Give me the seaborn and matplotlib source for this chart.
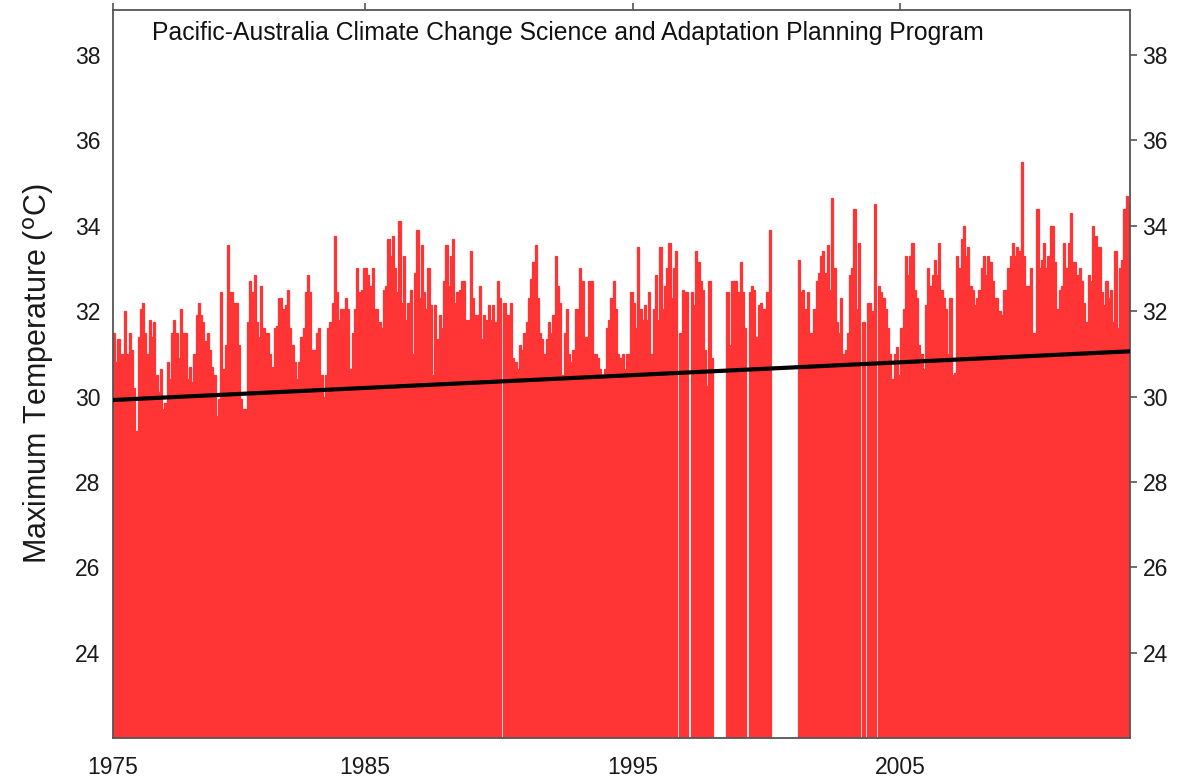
import numpy as np
import pandas as pd
import matplotlib
matplotlib.use("Agg")
import matplotlib.pyplot as plt
import seaborn as sns

# ---------------- data (monthly mean maximum temperature, degC) ----------------
nan = np.nan
start_year = 1975
start_month = 8  # first month shown (August)

tmax_part1 = [
    31.5, 30.8, 31.35, 31.0, 31.0, 32.0, 31.0, 31.5, 31.1, 30.2,
    29.2, 31.4, 32.05, 32.2, 31.5, 31.0, 31.8, 31.4, 31.75, 30.5,
    30.1, 30.65, 29.7, 29.85, 30.8, 30.4, 31.5, 31.8, 31.5, 30.9,
    32.05, 31.5, 31.5, 30.4, 30.7, 30.35, 31.0, 31.9, 32.2, 31.9,
    31.75, 31.3, 31.5, 31.1, 30.7, 30.5, 29.55, 29.95, 32.45, 30.65,
    31.2, 33.55, 32.45, 32.45, 32.2, 32.2, 31.2, 29.95, 29.7, 29.7,
    31.75, 32.7, 32.45, 32.85, 31.75, 31.4, 32.6, 31.6, 31.5, 31.5,
    31.0, 30.7, 31.6, 31.65, 32.3, 32.3, 32.05, 32.15, 32.5, 31.6,
    31.2, 30.8, 30.4, 30.8, 31.4, 31.6, 32.45, 32.85, 32.45, 31.1,
    31.1, 31.5, 31.6, 30.5, 30.0, 30.5, 31.6, 31.75, 32.2, 33.75,
    32.45, 31.8, 32.05, 32.05, 32.3, 32.05, 30.65, 31.5, 32.05, 33.0,
    32.45, 32.5, 33.0, 33.0, 32.85,
]
tmax_part2 = [
    32.6, 33.0, 32.05, 32.05, 31.75, 31.6, 32.5, 32.6, 33.7, 33.3,
    33.75, 33.0, 32.45, 34.1, 32.2, 33.3, 31.8, 32.2, 32.5, 31.0,
    32.9, 33.9, 32.3, 33.55, 32.45, 32.05, 33.0, 32.15, 30.5, 32.15,
    31.35, 31.9, 31.6, 32.7, 33.55, 32.6, 33.3, 33.7, 32.2, 32.45,
    32.5, 32.7, 32.7, 31.8, 31.8, 33.4, 32.3, 31.9, 31.9, 32.6,
    31.35, 31.9, 31.8, 32.15, 31.8, 32.15, 31.75, 32.7, 32.3, nan,
    32.2, 31.9, 31.9, 32.2, 30.9, 30.8, 30.65, 31.2, 31.1, 31.5,
    31.75, 32.3, 32.75, 33.15, 33.55, 32.3, 31.5, 31.35, 31.0, 31.35,
    31.75, 31.5, 31.9, 33.3, 32.6, 32.2, 30.5, 31.5, 32.05, 31.0,
    30.8, 31.1, 32.05, 32.05, 33.0, 32.7, 31.4, 31.4, 32.7, 32.7,
    31.0, 31.0, 30.9, 30.65, 30.5, 30.65, 31.6, 31.8, 32.3, 32.7,
    32.05, 31.0, 30.9, 31.0, 30.65,
]
tmax_part3 = [
    31.0, 31.0, 32.45, 32.2, 31.6, 33.5, 32.05, 31.8, 32.15, 31.8,
    32.45, 31.0, 32.05, 32.85, 31.8, 33.5, 32.05, 32.6, 33.0, 33.6,
    32.3, 33.0, 33.4, nan, 31.5, 32.5, 32.45, 32.45, nan, 32.45,
    32.15, 33.4, 33.15, 32.7, 32.5, 31.1, 30.25, 32.7, 30.9,
    nan, nan, nan, nan, nan, nan,
    32.45, 31.2, 32.7, 32.7, 32.7, 32.45, 33.15, 32.45, 31.6, nan,
    32.45, 32.6, 32.5, 31.4, 32.15, 32.2, 32.05, 32.05, 32.45, 33.9,
    nan, nan, nan, nan, nan, nan, nan, nan, nan, nan, nan, nan,
    33.2, 32.45, 32.5, 32.05, 32.45, 31.5, 31.5, 32.05, 32.7, 32.9,
    33.3, 33.4, 32.9, 33.55, 32.5, 34.65, 33.0, 31.75, 31.5, 32.3,
    31.0, 31.1, 31.5, 32.85, 33.0, 34.4, 32.05, 33.6, nan, 31.75,
    nan, 32.2, 32.2, 32.0, 34.5, nan,
]
tmax_part4 = [
    32.6, 32.45, 32.3, 32.05, 31.6, 31.0, 30.4, 31.0, 31.15, 30.5,
    31.6, 32.05, 33.3, 32.85, 33.3, 33.6, 32.5, 32.3, 31.2, 31.0,
    30.65, 32.15, 33.0, 32.6, 32.85, 33.2, 32.85, 33.6, 32.5, 32.3,
    32.05, 31.0, 32.3, 30.5, 30.55, 33.3, 33.0, 33.7, 34.0, 33.3,
    33.5, 32.6, 32.5, 32.15, 32.3, 32.5, 33.0, 33.3, 32.85, 33.3,
    33.15, 32.7, 32.3, 32.3, 32.0, 31.9, 32.5, 32.5, 33.0, 33.3,
    33.6, 33.3, 33.5, 33.4, 35.5, 33.3, 32.6, 32.6, 33.0, 31.5,
    31.5, 34.4, 33.0, 33.2, 33.6, 33.0, 33.3, 34.0, 34.0, 33.15,
    32.05, 32.5, 32.6, 33.6, 33.0, 33.6, 34.3, 33.15, 33.15, 32.85,
    33.0, 32.7, 32.2, 31.75, 32.85, 32.7, 34.0, 33.75, 33.5, 33.5,
    32.45, 32.15, 32.7, 32.3, 32.5, 31.75, 33.4, 31.6, 33.0, 33.2,
    34.4, 34.7, 34.5,
]

# linear trend (value at first and last month)
trend_start = 29.92
trend_end = 31.06

y_ticks = [24, 26, 28, 30, 32, 34, 36, 38]
x_tick_labels = ["1975", "1985", "1995", "2005"]
title_text = "Pacific-Australia Climate Change Science and Adaptation Planning Program"
y_label = r"Maximum Temperature ($^{\mathrm{o}}$C)"

# ---------------- build frame ----------------
tmax = np.array(tmax_part1 + tmax_part2 + tmax_part3 + tmax_part4, dtype=float)
n = len(tmax)
x0 = start_year + (start_month - 1) / 12.0
x_end = x0 + n / 12.0
centers = x0 + (np.arange(n) + 0.5) / 12.0
df = pd.DataFrame({"date": centers, "tmax": tmax}).dropna()

# ---------------- plot ----------------
sns.set_style("white")
plt.rcParams["font.family"] = ["Liberation Sans", "DejaVu Sans"]

fig = plt.figure(figsize=(11.86, 7.78), dpi=100)
ax = fig.add_axes([113 / 1186, 1 - 738.3 / 778, 1017 / 1186, 728.3 / 778])

bar_red = "#FF3434"
sns.barplot(data=df, x="date", y="tmax", native_scale=True, color=bar_red,
            saturation=1, width=1.0, errorbar=None, linewidth=0.9,
            edgecolor=bar_red, ax=ax)

trend_df = pd.DataFrame({"date": [x0, x_end], "trend": [trend_start, trend_end]})
sns.lineplot(data=trend_df, x="date", y="trend", color="black", linewidth=3.0,
             ax=ax, zorder=5)

ax.set_xlim(x0, x_end)
ax.set_ylim(22.0, 39.05)
ax.set_xticks([x0, 1985, 1995, 2005])
ax.set_xticklabels(x_tick_labels)
ax.set_yticks(y_ticks)
ax.set_yticklabels([str(v) for v in y_ticks])

spine_col = "#555555"
for s in ax.spines.values():
    s.set_visible(True)
    s.set_color(spine_col)
    s.set_linewidth(1.3)

ax.tick_params(axis="both", which="major", direction="out", length=5, width=1.2,
               color=spine_col, labelsize=16.5, labelcolor="#1a1a1a",
               top=True, right=True, labelright=True, labelleft=True,
               labeltop=False, pad=4)
ax.tick_params(axis="x", pad=8)

ax.set_xlabel("")
ax.set_ylabel(y_label, fontsize=22, color="#1a1a1a", labelpad=14)

ax.text(0.038, 0.968, title_text, transform=ax.transAxes, ha="left", va="center",
        fontsize=17.8, color="#111111")

fig.savefig("out.png", dpi=100)
